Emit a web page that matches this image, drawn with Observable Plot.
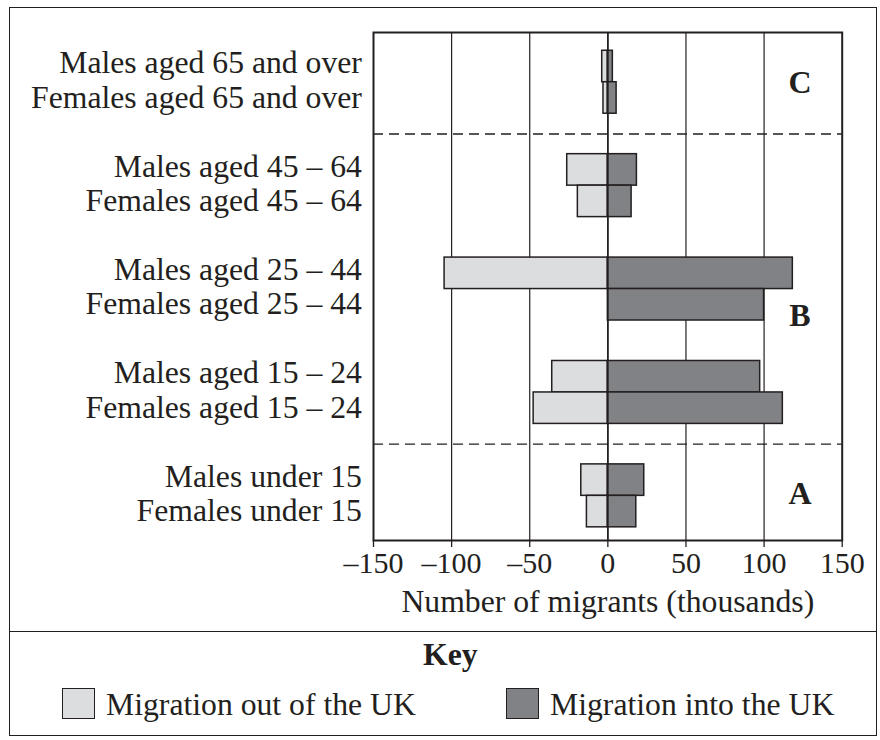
<!DOCTYPE html>
<html>
<head>
<meta charset="utf-8">
<script src="https://cdn.jsdelivr.net/npm/d3@7"></script>
<script src="https://cdn.jsdelivr.net/npm/@observablehq/plot@0.6"></script>
<style>
  body { margin: 0; background: #fff; }
  #page { position: relative; width: 880px; height: 740px; font-family: "Liberation Serif", "Times New Roman", serif; color: #231f20; }
  #chart { position: absolute; left: 0; top: 0; }
  #box { position: absolute; left: 9px; top: 7px; width: 868px; height: 729px; border: 1.5px solid #231f20; box-sizing: border-box; }
  #divider { position: absolute; left: 9px; top: 631px; width: 868px; border-top: 1.5px solid #231f20; }
  .k { position: absolute; font-size: 31.7px; line-height: 1; white-space: nowrap; }
  .sw { position: absolute; width: 33px; height: 31px; border: 1.5px solid #231f20; box-sizing: border-box; }
</style>
</head>
<body>
<div id="page">
  <div id="chart"></div>
  <div id="box"></div>
  <div id="divider"></div>
  <div class="k" id="keyTitle" style="left:423px; top:638.5px; font-weight:bold;"></div>
  <div class="sw" id="swOut" style="left:61.5px; top:688px;"></div>
  <div class="k" id="lblOut" style="left:106px; top:688.5px;"></div>
  <div class="sw" id="swIn" style="left:506px; top:688px;"></div>
  <div class="k" id="lblIn" style="left:550px; top:688.5px;"></div>
</div>
<script>
// ---- data ----
const labels = [
  "Males aged 65 and over", "Females aged 65 and over",
  "Males aged 45 – 64", "Females aged 45 – 64",
  "Males aged 25 – 44", "Females aged 25 – 44",
  "Males aged 15 – 24", "Females aged 15 – 24",
  "Males under 15", "Females under 15"
];
const sexes = ["Male", "Female", "Male", "Female", "Male", "Female", "Male", "Female", "Male", "Female"];
const outOfUK = [-3.6, -2.8, -26, -19.2, -104.5, null, -35.6, -47.5, -17, -13.4];
const intoUK  = [3.2, 5.6, 18.6, 15.2, 118.4, 100, 97.5, 112, 23.3, 18.2];
const xTicks = [-150, -100, -50, 0, 50, 100, 150];
const gridTicks = [-100, -50, 0, 50, 100];
const sectionGaps = ["gap C/B", "gap 45/25", "gap 25/15", "gap B/A"];
const sectionBreaks = ["gap C/B", "gap B/A"];
const sectionLetters = ["C", "B", "A"];
const xLabel = "Number of migrants (thousands)";
const keyTitle = "Key";
const seriesNames = ["Migration out of the UK", "Migration into the UK"];

const lightFill = "#dcdddf";
const darkFill = "#818285";
const ink = "#231f20";

// row order with spacer rows between the age pairs
const rowOrder = [
  labels[0], labels[1], sectionGaps[0],
  labels[2], labels[3], sectionGaps[1],
  labels[4], labels[5], sectionGaps[2],
  labels[6], labels[7], sectionGaps[3],
  labels[8], labels[9]
];

const rows = labels.map((label, i) => ({label, sex: sexes[i], out: outOfUK[i], into: intoUK[i]}));
const males = rows.filter(d => d.sex === "Male");
const females = rows.filter(d => d.sex === "Female");

const fontSize = "31.7px";
const barStyle = {stroke: ink, strokeWidth: 1.5};
const letterX = 123;

const chart = Plot.plot({
  width: 880,
  height: 625,
  marginLeft: 373,
  marginRight: 38.3,
  marginTop: 32,
  marginBottom: 85,
  style: {fontFamily: '"Liberation Serif", "Times New Roman", serif', fontSize, color: ink, background: "transparent", overflow: "visible"},
  x: {domain: [-150, 150]},
  y: {type: "band", domain: rowOrder, paddingInner: 0, paddingOuter: 0.369, align: 0.6, round: false},
  marks: [
    Plot.gridX(gridTicks, {stroke: ink, strokeOpacity: 1, strokeWidth: 1.2}),
    Plot.ruleY(sectionBreaks, {stroke: ink, strokeWidth: 1.4, strokeDasharray: "10,6"}),
    Plot.barX(males.filter(d => d.out != null), {y: "label", x1: 0, x2: "out", fill: lightFill, insetTop: 3, insetBottom: 0, ...barStyle}),
    Plot.barX(females.filter(d => d.out != null), {y: "label", x1: 0, x2: "out", fill: lightFill, insetTop: 0, insetBottom: 3, ...barStyle}),
    Plot.barX(males, {y: "label", x1: 0, x2: "into", fill: darkFill, insetTop: 3, insetBottom: 0, ...barStyle}),
    Plot.barX(females, {y: "label", x1: 0, x2: "into", fill: darkFill, insetTop: 0, insetBottom: 3, ...barStyle}),
    Plot.ruleX([0], {stroke: ink, strokeWidth: 1.6}),
    Plot.frame({stroke: ink, strokeWidth: 2}),
    Plot.axisY(labels, {tickSize: 0, tickPadding: 11.6, fontSize, fill: ink, label: null, dy: -2}),
    Plot.axisX(xTicks, {
      tickSize: 7, tickPadding: 4, fontSize: "30px", fill: ink, stroke: ink, strokeWidth: 1.3, label: null,
      tickFormat: d => d < 0 ? "–" + Math.abs(d) : String(d)
    }),
    Plot.text([xLabel], {text: d => d, frameAnchor: "bottom", lineAnchor: "middle", dy: 61.7, fontSize, fill: ink}),
    Plot.text([sectionLetters[0]], {text: d => d, x: letterX, y: [labels[0]], dy: 17.3, fontSize: "32px", fontWeight: "bold", fill: ink}),
    Plot.text([sectionLetters[1]], {text: d => d, x: letterX, y: [labels[5]], dy: 9.3, fontSize: "32px", fontWeight: "bold", fill: ink}),
    Plot.text([sectionLetters[2]], {text: d => d, x: letterX, y: [labels[9]], dy: -19.5, fontSize: "32px", fontWeight: "bold", fill: ink})
  ]
});
document.getElementById("chart").appendChild(chart);

document.getElementById("keyTitle").textContent = keyTitle;
document.getElementById("lblOut").textContent = seriesNames[0];
document.getElementById("lblIn").textContent = seriesNames[1];
document.getElementById("swOut").style.background = lightFill;
document.getElementById("swIn").style.background = darkFill;
</script>
</body>
</html>
